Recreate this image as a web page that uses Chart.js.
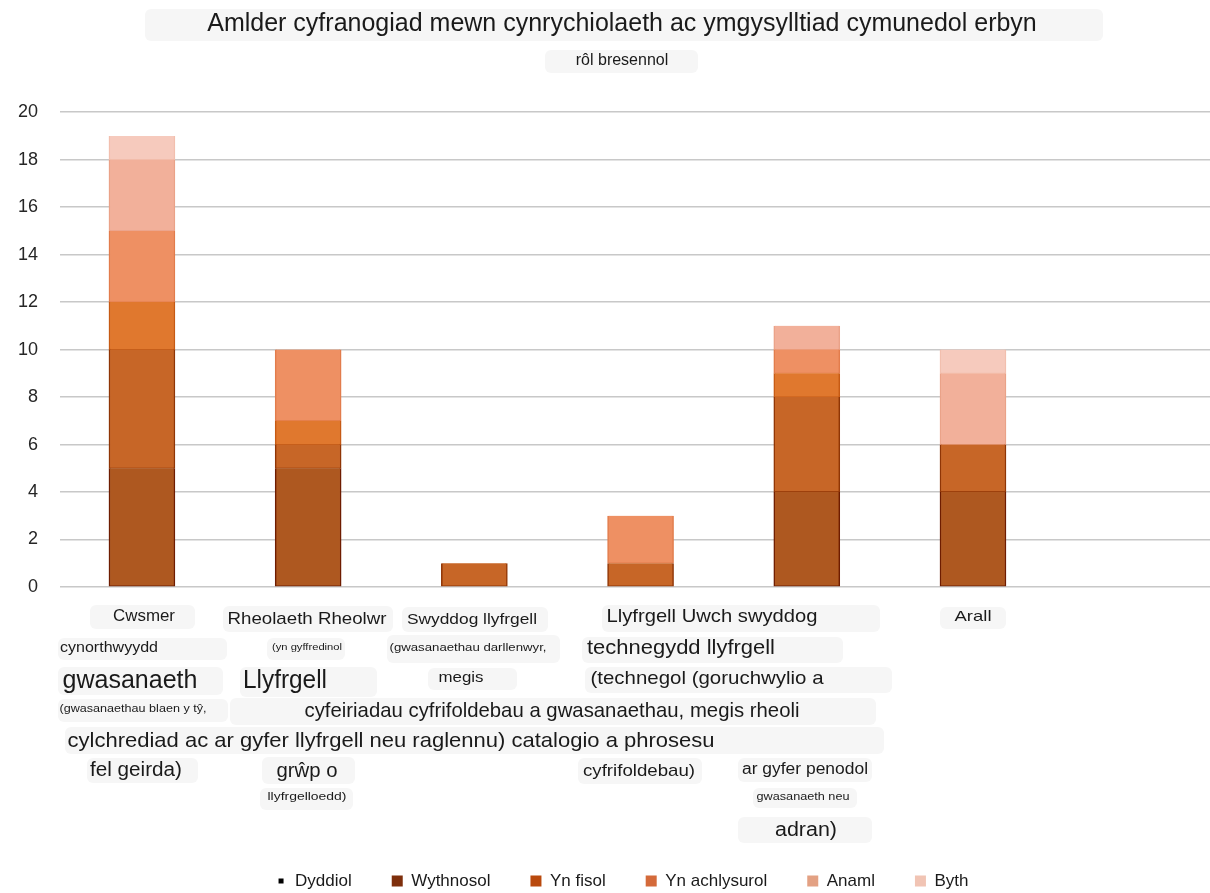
<!DOCTYPE html>
<html>
<head>
<meta charset="utf-8">
<title>Amlder cyfranogiad</title>
<script src="https://cdn.jsdelivr.net/npm/chart.js@4/dist/chart.umd.min.js"></script>
<style>
  html, body { margin: 0; padding: 0; background: #fff; overflow: hidden; }
  #wrap { position: relative; width: 1210px; height: 893px; }
</style>
</head>
<body>
<div id="wrap"><canvas id="chart"></canvas></div>
<script>
// data
const categories = [
  'Cwsmer gwasanaeth cynorthwyydd',
  'Rheolaeth Rheolwr Llyfrgell',
  'Swyddog llyfrgell',
  'Llyfrgell technegydd',
  'Uwch swyddog llyfrgell',
  'Arall'
];
const seriesNames = ['Dyddiol', 'Wythnosol', 'Yn fisol', 'Yn achlysurol', 'Anaml', 'Byth'];
const dyddiol      = [5, 5, 0, 0, 4, 4];
const wythnosol    = [5, 1, 1, 1, 4, 2];
const ynFisol      = [2, 1, 0, 0, 1, 0];
const ynAchlysurol = [3, 3, 0, 2, 1, 0];
const anaml        = [3, 0, 0, 0, 1, 3];
const byth         = [1, 0, 0, 0, 0, 1];
const yMax = 20;
const yStep = 2;

const seriesValues = [dyddiol, wythnosol, ynFisol, ynAchlysurol, anaml, byth];

// styling
const FONT = '"Liberation Sans", Arial, sans-serif';
const barColors    = ['#ae5820', '#c76627', '#e0782e', '#ee9063', '#f2b09a', '#f6cabd'];
const barBorders   = ['#6e1c00', '#8f3505', '#c65a14', '#e27c4c', '#eaa288', '#f2bfae'];
const legendColors = ['#000000', '#7e2f0c', '#b9490d', '#d46a3a', '#e3a183', '#f1c4b4'];

// the x axis text pieces, as laid out in the reference: text, centre x, centre y, width, size, box
const labelPieces = [
  ['Cwsmer', 144, 617, 62, 16, 90, 605, 195, 629],
  ['Rheolaeth Rheolwr', 307, 619, 159, 17, 223, 606, 393, 632],
  ['Swyddog llyfrgell', 472, 620, 130, 15, 402, 607, 548, 632],
  ['Llyfrgell Uwch swyddog', 712, 617, 211, 19, 602, 605, 880, 632],
  ['Arall', 973, 617, 37, 15, 940, 607, 1006, 629],
  ['cynorthwyydd', 109, 648, 98, 14, 58, 638, 227, 660],
  ['(yn gyffredinol', 307, 648, 70, 9, 267, 638, 345, 660],
  ['(gwasanaethau darllenwyr,', 468, 648, 157, 11, 387, 635, 560, 663],
  ['technegydd llyfrgell', 681, 648, 188, 20, 582, 637, 843, 663],
  ['gwasanaeth', 130, 681, 135, 25, 58, 667, 223, 695],
  ['Llyfrgell', 285, 681, 84, 25, 240, 667, 377, 697],
  ['megis', 461, 678, 45, 14, 428, 668, 517, 690],
  ['(technegol (goruchwylio a', 707, 679, 233, 19, 585, 667, 892, 693],
  ['(gwasanaethau blaen y tŷ,', 133, 709, 147, 10, 58, 699, 228, 722],
  ['cyfeiriadau cyfrifoldebau a gwasanaethau, megis rheoli', 552, 711, 495, 21, 230, 698, 876, 725],
  ['cylchrediad ac ar gyfer llyfrgell neu raglennu) catalogio a phrosesu', 391, 741, 647, 21, 65, 727, 884, 754],
  ['fel geirda)', 136, 770, 92, 20, 87, 758, 198, 783],
  ['grŵp o', 307, 771, 61, 20, 262, 757, 355, 784],
  ['cyfrifoldebau)', 639, 771, 112, 17, 578, 758, 702, 784],
  ['ar gyfer penodol', 805, 770, 126, 16, 738, 758, 872, 782],
  ['llyfrgelloedd)', 307, 797, 79, 11, 260, 788, 353, 810],
  ['gwasanaeth neu', 803, 797, 93, 10, 753, 788, 857, 808],
  ['adran)', 806, 830, 62, 20, 738, 817, 872, 843]
];
const titleBoxes = [[145, 9, 1103, 41], [545, 50, 698, 73]];

function roundBox(ctx, l, t, r, b) {
  ctx.beginPath();
  ctx.roundRect(l, t, r - l, b - t, 6);
  ctx.fill();
}

const piecesPlugin = {
  id: 'pieces',
  beforeDraw(chart) {
    const ctx = chart.ctx;
    ctx.save();
    ctx.fillStyle = '#f6f6f6';
    titleBoxes.forEach(b => roundBox(ctx, b[0], b[1], b[2], b[3]));
    labelPieces.forEach(p => roundBox(ctx, p[5], p[6], p[7], p[8]));
    ctx.restore();
  },
  afterDraw(chart) {
    const ctx = chart.ctx;
    labelPieces.forEach(([text, cx, cy, w, size]) => {
      ctx.save();
      ctx.font = size + 'px ' + FONT;
      const m = ctx.measureText(text).width;
      ctx.translate(cx, cy);
      ctx.scale(w / m, 1);
      ctx.fillStyle = '#1a1a1a';
      ctx.textAlign = 'center';
      ctx.textBaseline = 'middle';
      ctx.fillText(text, 0, 0);
      ctx.restore();
    });
  }
};

const datasets = seriesNames.map((name, i) => ({
  label: name,
  data: seriesValues[i].map((v, j) => ({ x: j, y: v })),
  backgroundColor: barColors[i],
  borderColor: barBorders[i],
  borderWidth: { left: 1.5, right: 1.5, top: 0, bottom: 1 },
  borderSkipped: false,
  barThickness: 66
}));

new Chart(document.getElementById('chart'), {
  type: 'bar',
  data: { datasets: datasets },
  plugins: [piecesPlugin],
  options: {
    responsive: true,
    maintainAspectRatio: false,
    animation: false,
    // title and legend sit centred at ~622, as in the reference
    layout: { padding: { top: 8, left: 13, right: -21, bottom: -6.5 } },
    scales: {
      x: {
        type: 'linear',
        stacked: true,
        offset: false,
        bounds: 'data',
        min: -0.493,
        max: 6.426,
        ticks: { display: false },
        grid: { display: false, offset: false },
        border: { display: false },
        afterFit: (scale) => { scale.height = 245.5; }
      },
      y: {
        stacked: true,
        min: 0,
        max: yMax,
        ticks: {
          stepSize: yStep,
          padding: 22,
          color: '#262626',
          font: { family: FONT, size: 18 }
        },
        grid: { color: '#c8c8c8', lineWidth: 1.5, drawTicks: false },
        border: { display: false },
        afterFit: (scale) => { scale.width = 47; }
      }
    },
    plugins: {
      title: {
        display: true,
        text: 'Amlder cyfranogiad mewn cynrychiolaeth ac ymgysylltiad cymunedol erbyn',
        color: '#1a1a1a',
        font: { family: FONT, size: 25, weight: 'normal' },
        padding: { top: 1, bottom: 8 }
      },
      subtitle: {
        display: true,
        text: 'rôl bresennol',
        color: '#1a1a1a',
        font: { family: FONT, size: 16, weight: 'normal' },
        padding: { top: 4, bottom: 42 }
      },
      legend: {
        position: 'bottom',
        labels: {
          boxWidth: 11,
          boxHeight: 11,
          padding: 40,
          color: '#1a1a1a',
          font: { family: FONT, size: 17 },
          generateLabels: (chart) => chart.data.datasets.map((ds, i) => ({
            text: ds.label,
            fillStyle: legendColors[i],
            strokeStyle: i === 0 ? '#ffffff' : legendColors[i],
            lineWidth: i === 0 ? 6 : 0,
            fontColor: '#1a1a1a',
            hidden: !chart.isDatasetVisible(i),
            datasetIndex: i
          }))
        }
      },
      tooltip: {
        callbacks: {
          title: (items) => categories[items[0].raw.x]
        }
      }
    }
  }
});
</script>
</body>
</html>
